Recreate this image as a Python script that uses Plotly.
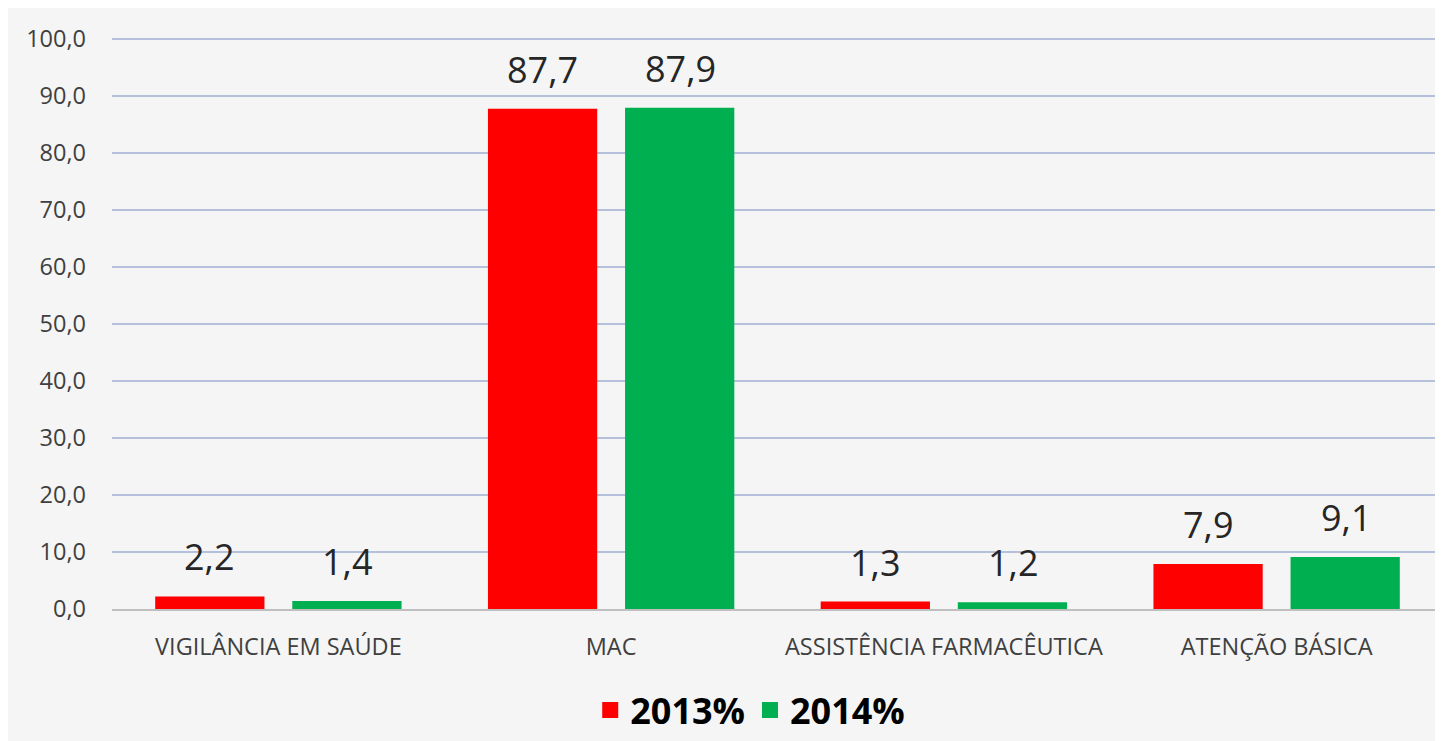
import plotly.graph_objects as go

categories = ["VIGILÂNCIA EM SAÚDE", "MAC", "ASSISTÊNCIA FARMACÊUTICA", "ATENÇÃO BÁSICA"]
series_names = ["2013%", "2014%"]
values_2013 = [2.2, 87.7, 1.3, 7.9]
values_2014 = [1.4, 87.9, 1.2, 9.1]
colors = ["#ff0000", "#00b050"]

def fmt(v):
    return f"{v:.1f}".replace(".", ",")

fig = go.Figure()
for name, vals, col in zip(series_names, [values_2013, values_2014], colors):
    fig.add_trace(go.Bar(
        x=categories, y=vals, name=name,
        marker=dict(color=col, line=dict(width=0)),
        hoverinfo="skip", showlegend=False,
    ))
# legend entries with larger square swatches
for name, col in zip(series_names, colors):
    fig.add_trace(go.Scatter(
        x=[categories[0]], y=[None], mode="markers", name=f"<b>{name}</b>",
        marker=dict(symbol="square", size=16, color=col),
        hoverinfo="skip", showlegend=True,
    ))

for vals, shift in [(values_2013, -69), (values_2014, 69)]:
    for c, v in zip(categories, vals):
        fig.add_annotation(
            x=c, y=v, text=fmt(v), showarrow=False,
            xshift=shift, yshift=13, yanchor="bottom",
            font=dict(size=36, color="#262626", family="Open Sans"),
        )

fig.update_layout(
    width=1435, height=733,
    paper_bgcolor="#f5f5f5", plot_bgcolor="#f5f5f5",
    margin=dict(l=104, r=0, t=29, b=132),
    barmode="group", bargap=0.176, bargroupgap=0.203,
    separators=",.",
    font=dict(family="Open Sans", color="#404040"),
    showlegend=True,
    legend=dict(
        orientation="h", x=0.4795, xanchor="center", y=-0.1766, yanchor="middle",
        font=dict(size=36, color="#000000", family="Open Sans"),
        itemsizing="trace", bgcolor="rgba(0,0,0,0)",
        traceorder="normal",
    ),
    xaxis=dict(
        tickfont=dict(size=23.5, color="#404040"),
        showline=True, linecolor="#bfbfbf", linewidth=1.5,
        ticks="", showgrid=False, ticklabelstandoff=16,
    ),
    yaxis=dict(
        range=[0, 100.3], tickvals=[0, 10, 20, 30, 40, 50, 60, 70, 80, 90, 100],
        tickformat=".1f",
        tickfont=dict(size=23.5, color="#404040"),
        showgrid=True, gridcolor="#b4c0dc", gridwidth=1.5,
        zeroline=False, showline=False, ticks="",
        ticklabelstandoff=25,
    ),
)

fig.write_html("out.html")
